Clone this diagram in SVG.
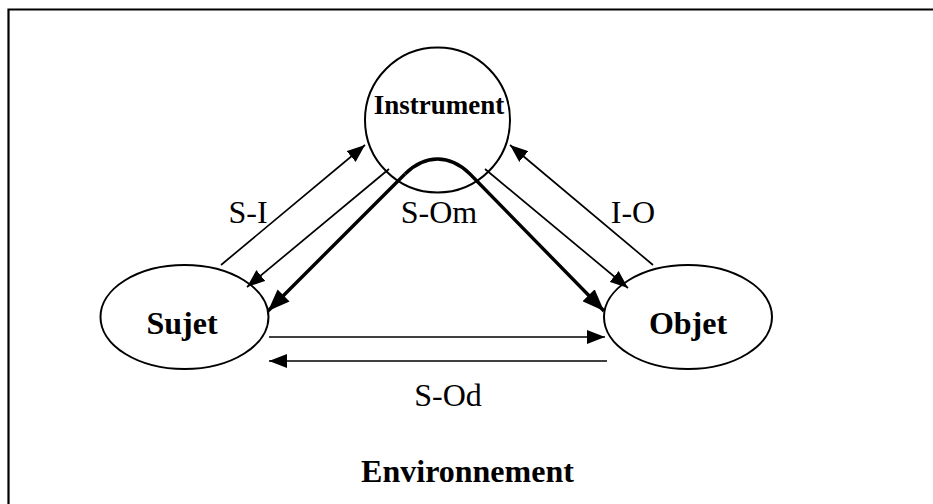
<svg xmlns="http://www.w3.org/2000/svg" width="933" height="504" viewBox="0 0 933 504">
  <style>
    .node { fill: #fff; stroke: #000; stroke-width: 2; }
    .conn { fill: none; stroke: #000; stroke-width: 1.7; }
    .thick { fill: none; stroke: #000; stroke-width: 3.4; }
    .bold { font-family: "Liberation Serif", "Times New Roman", serif; font-weight: bold; fill: #000; text-anchor: middle; }
    .lbl { font-family: "Liberation Serif", "Times New Roman", serif; font-size: 32px; fill: #000; text-anchor: middle; }
  </style>
  <defs>
    <marker id="ah" markerUnits="userSpaceOnUse" markerWidth="18" markerHeight="14" refX="18" refY="7" orient="auto">
      <path d="M0,0 L18,7 L0,14 z" fill="#000"/>
    </marker>
    <marker id="ahT" markerUnits="userSpaceOnUse" markerWidth="22" markerHeight="17" refX="22" refY="8.5" orient="auto">
      <path d="M0,0 L22,8.5 L0,17 z" fill="#000"/>
    </marker>
  </defs>
  <rect width="933" height="504" fill="#fff"/>
  <path id="frame" d="M8.5,520 V9.5 H945" fill="none" stroke="#000" stroke-width="2.2"/>

  <g id="node-instrument">
    <circle class="node" cx="437.5" cy="120" r="72.5"/>
    <text class="bold" x="439" y="114" font-size="27">Instrument</text>
  </g>
  <g id="node-sujet">
    <ellipse class="node" cx="184.5" cy="317" rx="84" ry="52"/>
    <text class="bold" x="182" y="334" font-size="32">Sujet</text>
  </g>
  <g id="node-objet">
    <ellipse class="node" cx="688" cy="317" rx="84" ry="52"/>
    <text class="bold" x="688" y="334" font-size="32">Objet</text>
  </g>

  <g id="connectors">
    <line class="conn" x1="221" y1="265" x2="365" y2="145" marker-end="url(#ah)"/>
    <line class="conn" x1="389" y1="169" x2="247" y2="287" marker-end="url(#ah)"/>
    <line class="conn" x1="653" y1="265" x2="510" y2="145" marker-end="url(#ah)"/>
    <line class="conn" x1="485" y1="169" x2="628" y2="288" marker-end="url(#ah)"/>
    <line class="conn" x1="269" y1="337" x2="605" y2="337" marker-end="url(#ah)"/>
    <line class="conn" x1="607" y1="361" x2="269" y2="361" marker-end="url(#ah)"/>
    <path class="thick" d="M405,174 L268,311" marker-end="url(#ahT)"/>
    <path class="thick" d="M405,174 C425,154 450,154 470,174 L604,311" marker-end="url(#ahT)"/>
  </g>

  <g id="labels">
    <text class="lbl" x="248" y="223">S-I</text>
    <text class="lbl" x="439" y="223">S-Om</text>
    <text class="lbl" x="633" y="223">I-O</text>
    <text class="lbl" x="448" y="406">S-Od</text>
    <text class="bold" x="467.5" y="482" font-size="32">Environnement</text>
  </g>
</svg>
